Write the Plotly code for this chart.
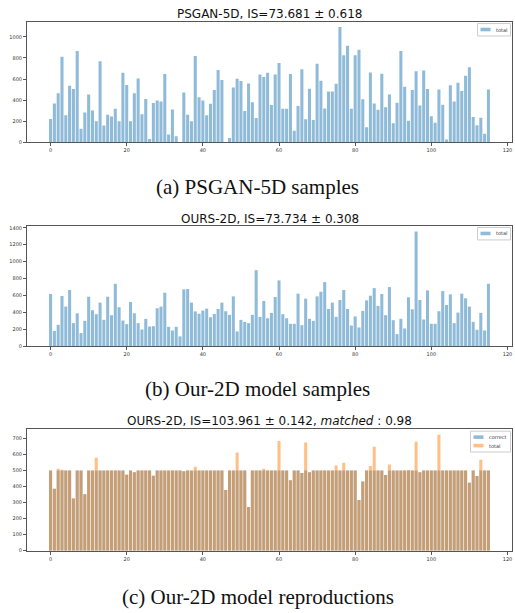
import plotly.graph_objects as go

x_idx = list(range(116))

a_total = [222, 369, 466, 812, 256, 537, 506, 866, 128, 284,
           453, 303, 200, 769, 159, 262, 244, 319, 200, 659,
           544, 200, 466, 606, 266, 412, 31, 372, 397, 387,
           647, 75, 312, 59, 0, 472, 262, 200, 819, 428,
           397, 256, 366, 497, 687, 591, 0, 41, 519, 603,
           581, 297, 559, 381, 231, 644, 619, 659, 353, 644,
           753, 319, 319, 647, 109, 344, 694, 219, 509, 212,
           744, 584, 322, 481, 481, 556, 1094, 825, 916, 319,
           825, 878, 409, 144, 662, 369, 309, 650, 334, 453,
           181, 375, 866, 528, 206, 497, 675, 350, 681, 506,
           247, 187, 500, 356, 28, 541, 387, 566, 487, 631,
           712, 241, 162, 234, 81, 500]

b_total = [616, 180, 251, 592, 467, 663, 271, 388, 153, 298,
           584, 424, 377, 514, 310, 584, 365, 737, 459, 302,
           259, 522, 388, 271, 196, 322, 231, 235, 447, 467,
           631, 227, 184, 227, 114, 671, 675, 514, 410, 382,
           420, 443, 341, 380, 439, 514, 412, 369, 588, 173,
           310, 286, 271, 369, 898, 345, 533, 329, 392, 580,
           777, 377, 329, 263, 263, 620, 247, 561, 322, 298,
           588, 643, 757, 439, 514, 345, 545, 663, 439, 243,
           351, 220, 416, 541, 596, 686, 475, 616, 365, 698,
           306, 141, 322, 208, 577, 435, 1357, 545, 314, 659,
           263, 263, 412, 651, 486, 612, 271, 396, 620, 565,
           467, 286, 192, 392, 184, 737]

c_total = [500, 387, 511, 505, 500, 500, 325, 500, 500, 352,
           500, 500, 580, 500, 500, 500, 500, 500, 500, 500,
           474, 500, 489, 500, 500, 500, 500, 468, 500, 500,
           500, 500, 500, 500, 500, 496, 500, 500, 524, 500,
           500, 500, 500, 500, 500, 500, 379, 500, 500, 613,
           500, 500, 273, 500, 500, 500, 511, 500, 500, 500,
           685, 500, 500, 439, 500, 500, 484, 675, 489, 500,
           500, 500, 500, 500, 500, 532, 500, 549, 500, 500,
           500, 317, 431, 500, 528, 648, 500, 500, 472, 538,
           500, 500, 500, 500, 503, 500, 679, 490, 500, 500,
           500, 500, 724, 500, 500, 500, 500, 500, 500, 500,
           424, 500, 466, 567, 500, 500]

c_correct = [500, 387, 500, 500, 500, 500, 325, 500, 500, 352,
             500, 500, 500, 500, 500, 500, 500, 500, 500, 500,
             474, 500, 489, 500, 500, 500, 500, 468, 500, 500,
             500, 500, 500, 500, 500, 496, 500, 500, 500, 500,
             500, 500, 500, 500, 500, 500, 379, 500, 500, 500,
             500, 500, 273, 500, 500, 500, 500, 500, 500, 500,
             500, 500, 500, 439, 500, 500, 484, 500, 489, 500,
             500, 500, 500, 500, 500, 500, 500, 500, 500, 500,
             500, 317, 431, 500, 500, 500, 500, 500, 472, 500,
             500, 500, 500, 500, 500, 500, 500, 490, 500, 500,
             500, 500, 500, 500, 500, 500, 500, 500, 500, 500,
             424, 500, 466, 500, 500, 500]

x_ticks = [0, 20, 40, 60, 80, 100, 120]
a_yticks = [0, 200, 400, 600, 800, 1000]
b_yticks = [0, 200, 400, 600, 800, 1000, 1200, 1400]
c_yticks = [0, 100, 200, 300, 400, 500, 600, 700]

titles = ["PSGAN-5D, IS=73.681 ± 0.618",
          "OURS-2D, IS=73.734 ± 0.308",
          "OURS-2D, IS=103.961 ± 0.142, <i>matched</i> : 0.98"]
captions = ["(a) PSGAN-5D samples",
            "(b) Our-2D model samples",
            "(c) Our-2D model reproductions"]
legend_labels = [["total"], ["total"], ["correct", "total"]]

BLUE = "rgba(31,119,180,0.5)"
ORANGE = "rgba(255,127,14,0.5)"
W, H = 515, 613
RIGHT = 512


def py(px):
    return 1 - px / H


def pxx(px):
    return px / W


fig = go.Figure()
fig.add_trace(go.Bar(x=x_idx, y=a_total, name="total", marker_color=BLUE, width=0.8,
                     marker_line_width=0, xaxis="x", yaxis="y", showlegend=False))
fig.add_trace(go.Bar(x=x_idx, y=b_total, name="total", marker_color=BLUE, width=0.8,
                     marker_line_width=0, xaxis="x2", yaxis="y2", showlegend=False))
fig.add_trace(go.Bar(x=x_idx, y=c_correct, name="correct", marker_color=BLUE, width=0.8,
                     marker_line_width=0, xaxis="x3", yaxis="y3", showlegend=False))
fig.add_trace(go.Bar(x=x_idx, y=c_total, name="total", marker_color=ORANGE, width=0.8,
                     marker_line_width=0, xaxis="x3", yaxis="y3", showlegend=False))

xdom = [27 / W, RIGHT / W]
panels = [  # (top px, bottom px, yrange, yticks)
    (20.7, 142.3, [0, 1145], a_yticks),
    (226.0, 347.3, [0, 1427], b_yticks),
    (431.0, 553.3, [0, 758], c_yticks),
]

axis_common = dict(showline=True, mirror=True, linecolor="#555", linewidth=1,
                   ticks="outside", ticklen=3, tickcolor="#555", tickwidth=1,
                   showgrid=False, zeroline=False,
                   tickfont=dict(family="DejaVu Sans", size=5, color="#333"))

layout = dict(width=W, height=H, margin=dict(l=0, r=0, t=0, b=0),
              paper_bgcolor="white", plot_bgcolor="white", barmode="overlay",
              font=dict(family="DejaVu Sans"), showlegend=False)
for i, (top, bot, yr, yt) in enumerate(panels):
    sfx = "" if i == 0 else str(i + 1)
    layout["xaxis" + sfx] = dict(domain=xdom, range=[-6.19, 121.19], tickvals=x_ticks,
                                 anchor="y" + sfx, **axis_common)
    layout["yaxis" + sfx] = dict(domain=[py(bot), py(top)], range=yr, tickvals=yt,
                                 anchor="x" + sfx, **axis_common)
fig.update_layout(**layout)

# legends drawn as boxes + patches + text (matplotlib-like, small)
shapes = []
for i, (top, bot, yr, yt) in enumerate(panels):
    labels = legend_labels[i]
    n = len(labels)
    box_w = 33 if n == 1 else 40
    x1 = RIGHT - 1.5
    x0 = x1 - box_w
    y0 = top + 2
    y1 = y0 + 4 + 8.5 * n
    shapes.append(dict(type="rect", xref="paper", yref="paper", x0=pxx(x0), x1=pxx(x1),
                       y0=py(y1), y1=py(y0), line=dict(color="#ccc", width=1),
                       fillcolor="rgba(255,255,255,0.8)", layer="above"))
    cols = [BLUE] if n == 1 else [BLUE, ORANGE]
    for k, lab in enumerate(labels):
        cy = y0 + 6 + 8.5 * k
        shapes.append(dict(type="rect", xref="paper", yref="paper", x0=pxx(x0 + 3), x1=pxx(x0 + 13),
                           y0=py(cy + 1.8), y1=py(cy - 1.8), line=dict(width=0),
                           fillcolor=cols[k], layer="above"))
        fig.add_annotation(text=lab, xref="paper", yref="paper", x=pxx(x0 + 16), y=py(cy),
                           xanchor="left", yanchor="middle", showarrow=False,
                           font=dict(family="DejaVu Sans", size=5, color="#333"))
fig.update_layout(shapes=shapes)

title_y = [13, 219, 423]
cap_y = [187, 391, 600]
for i in range(3):
    fig.add_annotation(text=titles[i], xref="paper", yref="paper", x=(27 + RIGHT) / 2 / W,
                       y=py(title_y[i]), xanchor="center", yanchor="middle", showarrow=False,
                       font=dict(family="DejaVu Sans", size=12, color="#111"))
    fig.add_annotation(text=captions[i], xref="paper", yref="paper", x=0.5, y=py(cap_y[i]),
                       xanchor="center", yanchor="middle", showarrow=False,
                       font=dict(family="Liberation Serif", size=21, color="#111"))

fig.write_html("out.html", config={"displayModeBar": False},
               post_script="document.body.style.margin='0';document.body.style.padding='0';"
                           "document.body.style.overflow='hidden';")
